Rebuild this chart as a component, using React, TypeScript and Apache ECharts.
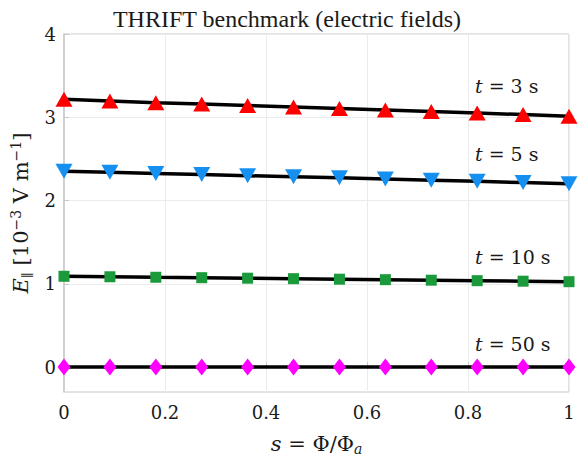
import React, { useEffect, useRef } from "react";
import * as echarts from "echarts";

const sValues = [0, 1 / 11, 2 / 11, 3 / 11, 4 / 11, 5 / 11, 6 / 11, 7 / 11, 8 / 11, 9 / 11, 10 / 11, 1];
const t3 = [3.215, 3.195, 3.175, 3.158, 3.14, 3.122, 3.104, 3.087, 3.068, 3.05, 3.032, 3.012];
const t5 = [2.35, 2.338, 2.325, 2.312, 2.298, 2.285, 2.272, 2.258, 2.244, 2.23, 2.216, 2.2];
const t10 = [1.09, 1.084, 1.078, 1.073, 1.067, 1.061, 1.055, 1.049, 1.043, 1.037, 1.031, 1.025];
const t50 = [0, 0, 0, 0, 0, 0, 0, 0, 0, 0, 0, 0];
const seriesLabels = ["3", "5", "10", "50"];
const yTicks = [0, 1, 2, 3, 4];

const FONT = "DejaVu Serif";
const C = "#1a1a1a";
const N = { fontFamily: FONT, fontStyle: "normal", fontWeight: "normal" };
const I = { fontFamily: FONT, fontStyle: "italic", fontWeight: "normal" };

export default function App() {
  const ref = useRef<HTMLDivElement>(null);
  useEffect(() => {
    const chart = echarts.init(ref.current!, null, { renderer: "svg" });
    const mk = (vals: number[]) => vals.map((v, i) => [sValues[i], v]);
    const lineSeries = (name: string, vals: number[], symbol: string, size: any, color: string) => ({
      name,
      type: "line",
      data: mk(vals),
      symbol,
      symbolSize: size,
      showAllSymbol: true,
      lineStyle: { color: "#000", width: 3.5 },
      itemStyle: { color, borderWidth: 0 },
      z: 3,
    });
    const labelY = [88, 156, 259, 346];
    chart.setOption({
      animation: false,
      backgroundColor: "#fff",
      textStyle: { ...N },
      title: {
        text: "THRIFT benchmark (electric fields)",
        left: 282,
        textAlign: "center",
        top: 2,
        textStyle: { fontFamily: "Times New Roman", fontWeight: "normal", fontSize: 24, color: C },
      },
      grid: { left: 64, right: 16, top: 34, bottom: 66, show: true, borderColor: "#c8c8c8", borderWidth: 1 },
      xAxis: {
        type: "value",
        min: 0,
        max: 1,
        interval: 0.2,
        axisLine: { show: true, lineStyle: { color: "#c8c8c8", width: 1.5 } },
        axisTick: { show: true, inside: true, length: 5, lineStyle: { color: "#c8c8c8" } },
        splitLine: { show: true, lineStyle: { color: "#ebebeb" } },
        axisLabel: { ...N, fontSize: 18, color: C, margin: 11 },
        name: "{i|s}{n| = Φ/Φ}{sub|a}",
        nameLocation: "middle",
        nameGap: 40,
        nameTextStyle: {
          ...N,
          fontSize: 21,
          color: C,
          rich: {
            i: { ...I, fontSize: 21, color: C },
            n: { ...N, fontSize: 21, color: C },
            sub: { ...I, fontSize: 14, color: C, padding: [10, 0, 0, 0] },
          },
        },
      },
      yAxis: {
        type: "value",
        min: -0.3,
        max: 4,
        axisLabel: { ...N, fontSize: 18, color: C, margin: 8, customValues: yTicks },
        axisLine: { show: true, lineStyle: { color: "#c8c8c8", width: 1.5 } },
        axisTick: { show: true, inside: true, length: 5, lineStyle: { color: "#c8c8c8" }, customValues: yTicks },
        splitLine: { show: true, lineStyle: { color: "#ebebeb" } },
        name: "{i|E}{sub|∥}{n| [10}{sup|−3}{n| V m}{sup|−1}{n|]}",
        nameLocation: "middle",
        nameRotate: 90,
        nameGap: 30,
        nameTextStyle: {
          ...N,
          fontSize: 21,
          color: C,
          rich: {
            i: { ...I, fontSize: 21, color: C },
            n: { ...N, fontSize: 21, color: C },
            sub: { ...N, fontSize: 13, color: C, padding: [12, 0, 0, 0] },
            sup: { ...N, fontSize: 14, color: C, padding: [0, 0, 10, 0] },
          },
        },
      },
      graphic: seriesLabels.map((t, i) => ({
        type: "text",
        left: 475,
        top: labelY[i] - 12,
        style: {
          text: "{i|t}{n| = " + t + " s}",
          ...N,
          fontSize: 19,
          fill: C,
          rich: {
            i: { ...I, fontSize: 19, fill: C },
            n: { ...N, fontSize: 19, fill: C },
          },
        },
        z: 10,
      })),
      series: [
        lineSeries("t = 3 s", t3, "triangle", [17, 15], "#ff0000"),
        lineSeries("t = 5 s", t5, "path://M0,0 L10,0 L5,9 Z", [17, 15], "#1690f0"),
        lineSeries("t = 10 s", t10, "rect", 11, "#1a9a3a"),
        lineSeries("t = 50 s", t50, "diamond", [13, 17], "#ff00ff"),
      ],
    });
    return () => chart.dispose();
  }, []);
  return <div ref={ref} style={{ width: 585, height: 461, position: "absolute", left: 0, top: 0 }} />;
}
